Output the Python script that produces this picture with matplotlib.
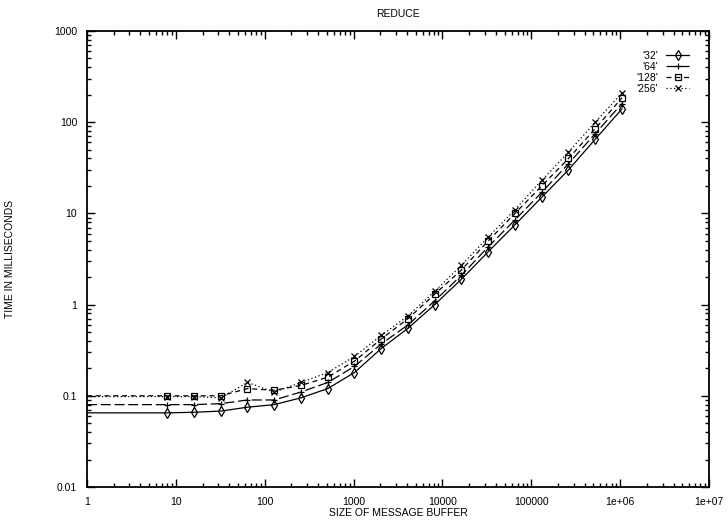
import matplotlib
matplotlib.use("Agg")
import matplotlib.pyplot as plt
from matplotlib.ticker import LogLocator, FixedLocator, FixedFormatter, NullFormatter

plt.rcParams['font.family'] = ['Liberation Sans', 'DejaVu Sans']

sizes = [1, 8, 16, 32, 64, 128, 256, 512, 1024, 2048, 4096, 8192, 16384,
         32768, 65536, 131072, 262144, 524288, 1048576]

t32 = [0.065, 0.065, 0.066, 0.068, 0.075, 0.080, 0.095, 0.12, 0.18, 0.33, 0.55,
       1.0, 1.9, 3.8, 7.5, 15, 30, 65, 140]
t64 = [0.080, 0.080, 0.080, 0.082, 0.090, 0.090, 0.11, 0.14, 0.21, 0.37, 0.60,
       1.1, 2.1, 4.3, 8.5, 17, 35, 75, 160]
t128 = [0.100, 0.100, 0.100, 0.100, 0.120, 0.115, 0.13, 0.16, 0.24, 0.42, 0.70,
        1.3, 2.4, 5.0, 10, 20, 40, 85, 185]
t256 = [0.098, 0.098, 0.098, 0.095, 0.140, 0.110, 0.14, 0.18, 0.27, 0.46, 0.75,
        1.4, 2.7, 5.5, 11, 23, 47, 100, 210]

labels = ["'32'", "'64'", "'128'", "'256'"]
series = [t32, t64, t128, t256]
styles = ['-', (0, (8, 3)), (0, (4, 3)), (0, (1, 2))]
markers = ['d', '+', 's', 'x']

fig = plt.figure(figsize=(7.28, 5.21), dpi=100)
ax = fig.add_axes([87/728, 1 - 487/521, 622/728, 456/521])

for lab, s, ls, mk in zip(labels, series, styles, markers):
    ax.plot(sizes, s, color='black', linestyle=ls, linewidth=0.9,
            marker=mk, markersize=5, markerfacecolor='none',
            markeredgecolor='black', markeredgewidth=0.9,
            markevery=list(range(1, len(sizes))), label=lab)

ax.set_xscale('log')
ax.set_yscale('log')
ax.set_xlim(1, 1e7)
ax.set_ylim(0.01, 1000)

xt = [1, 10, 100, 1000, 10000, 100000, 1e6, 1e7]
xl = ["1", "10", "100", "1000", "10000", "100000", "1e+06", "1e+07"]
yt = [0.01, 0.1, 1, 10, 100, 1000]
yl = ["0.01", "0.1", "1", "10", "100", "1000"]
ax.xaxis.set_major_locator(FixedLocator(xt))
ax.xaxis.set_major_formatter(FixedFormatter(xl))
ax.yaxis.set_major_locator(FixedLocator(yt))
ax.yaxis.set_major_formatter(FixedFormatter(yl))
ax.xaxis.set_minor_locator(LogLocator(base=10, subs=range(2, 10), numticks=50))
ax.yaxis.set_minor_locator(LogLocator(base=10, subs=range(2, 10), numticks=50))
ax.xaxis.set_minor_formatter(NullFormatter())
ax.yaxis.set_minor_formatter(NullFormatter())

ax.tick_params(which='both', direction='in', top=True, right=True,
               labelsize=7.5, width=1, color='black')
ax.tick_params(which='major', length=6, pad=7)
ax.tick_params(which='minor', length=3)
for sp in ax.spines.values():
    sp.set_linewidth(1.3)

ax.set_title('REDUCE', fontsize=7.5, pad=10)
ax.set_xlabel('SIZE OF MESSAGE BUFFER', fontsize=7.5, labelpad=1)
ax.set_ylabel('TIME IN MILLISECONDS', fontsize=7.5, labelpad=28)

leg = ax.legend(loc='upper right', frameon=False, markerfirst=False,
                fontsize=7.5, handlelength=2.2, handletextpad=0.8,
                labelspacing=0.1, borderaxespad=1.5)

fig.savefig('out.png', dpi=100)
